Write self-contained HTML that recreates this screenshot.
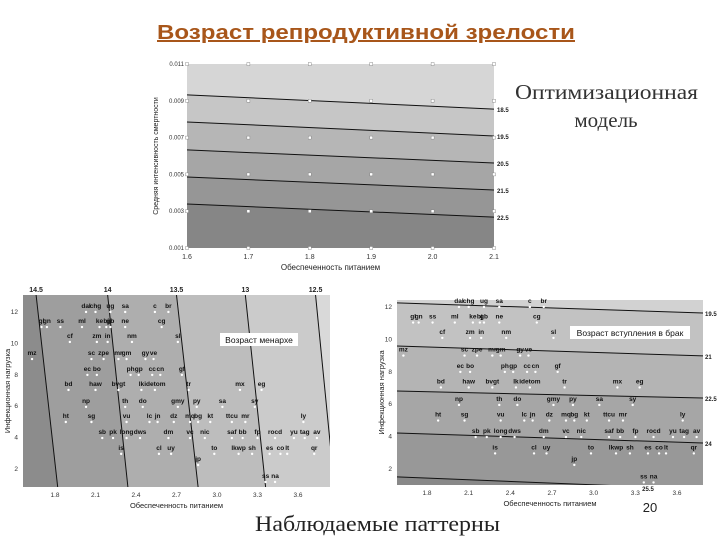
<!DOCTYPE html>
<html><head><meta charset="utf-8"><style>
body{margin:0;background:#fff;}
svg{display:block;font-family:"Liberation Sans",sans-serif;}
</style></head><body>
<svg id="s" width="720" height="540" viewBox="0 0 720 540">
<text x="157" y="39" textLength="418" lengthAdjust="spacingAndGlyphs" font-size="20" font-weight="bold" fill="#a8561a" text-decoration="underline">Возраст репродуктивной зрелости</text>
<text x="515" y="99" textLength="183" lengthAdjust="spacingAndGlyphs" font-family="Liberation Serif,serif" font-size="21" fill="#333">Оптимизационная</text>
<text x="606" y="127" text-anchor="middle" font-family="Liberation Serif,serif" font-size="21" fill="#333">модель</text>
<text x="255" y="531" textLength="245" lengthAdjust="spacingAndGlyphs" font-family="Liberation Serif,serif" font-size="22" fill="#222">Наблюдаемые паттерны</text>
<text x="650" y="512" text-anchor="middle" font-size="13" fill="#222">20</text>
<g id="top"></g><g id="bl"></g><g id="br"></g>
</svg>
<script>
// ---- top chart data ----
const topX = [1.6,1.7,1.8,1.9,2.0,2.1];
const topY = [0.011,0.009,0.007,0.005,0.003,0.001];
const topLevels = [18.5,19.5,20.5,21.5,22.5];
const topLeft = [0.00932,0.00785,0.00633,0.00486,0.00339];
const topRight = [0.00855,0.00709,0.00562,0.00415,0.00268];
const topXTicks = ["1.6","1.7","1.8","1.9","2.0","2.1"];
const topYTicks = ["0.011","0.009","0.007","0.005","0.003","0.001"];
// ---- observed data ----
const codes = ["dal","chg","ug","sa","c","br","gl","gn","ss","ml","ke","bj","gb","ne","cg","cf","zm","in","nm","sl","mz","sc","zpe","mr","gm","gy","ve","ec","bo","ph","gp","cc","cn","gf","bd","haw","bvgt","lk","idetom","tr","mx","eg","np","th","do","gmy","py","sa","sy","ht","sg","vu","lc","jn","dz","mq","bg","kt","ttcu","mr","ly","sb","pk","long","dws","dm","vc","nic","saf","bb","fp","rocd","yu","tag","av","is","cl","uy","to","lkwp","sh","es","co","lt","qr","jp","ss","na"];
const nutrition = [2.03,2.10,2.21,2.32,2.54,2.64,1.70,1.74,1.84,2.00,2.13,2.18,2.21,2.32,2.59,1.91,2.11,2.19,2.37,2.71,1.63,2.07,2.16,2.27,2.33,2.47,2.53,2.04,2.11,2.36,2.42,2.52,2.58,2.74,1.90,2.10,2.27,2.44,2.54,2.79,3.17,3.33,2.03,2.32,2.45,2.71,2.85,3.04,3.28,1.88,2.07,2.33,2.50,2.56,2.68,2.80,2.86,2.95,3.11,3.21,3.64,2.15,2.23,2.33,2.43,2.64,2.80,2.91,3.11,3.19,3.30,3.43,3.57,3.65,3.74,2.29,2.57,2.66,2.98,3.16,3.26,3.39,3.47,3.52,3.72,2.86,3.36,3.43];
const infection = [12,12,12,12,12,12,11.04,11.04,11.04,11.04,11.04,11.04,11.04,11.04,11.04,10.09,10.09,10.09,10.09,10.09,9.0,9.0,9.0,9.0,9.0,9.0,9.0,7.99,7.99,7.99,7.99,7.99,7.99,7.99,7.03,7.03,7.03,7.03,7.03,7.03,7.03,7.03,5.95,5.95,5.95,5.95,5.95,5.95,5.95,4.99,4.99,4.99,4.99,4.99,4.99,4.99,4.99,4.99,4.99,4.99,4.99,3.97,3.97,3.97,3.97,3.97,3.97,3.97,3.97,3.97,3.97,3.97,3.97,3.97,3.97,2.96,2.96,2.96,2.96,2.96,2.96,2.96,2.96,2.96,2.96,2.25,1.17,1.17];
const xTicks = ["1.8","2.1","2.4","2.7","3.0","3.3","3.6"];
const yTicks = ["2","4","6","8","10","12"];
// menarche contours (vertical-ish): nutrition at top / bottom edge
const menLevels = ["14.5","14","13.5","13","12.5"];
const menTop = [1.66,2.19,2.70,3.21,3.73];
const menBottom = [1.82,2.34,2.86,3.36,3.87];
// marriage contours (horizontal-ish): infection at left / right edge
const marLevels = ["19.5","21","22.5","24","25.5"];
const marLeft = [12.25,9.59,6.81,4.22,1.51];
const marRight = [11.63,8.98,6.38,3.60,0.75];

const NS="http://www.w3.org/2000/svg";
function mk(p,tag,a){const e=document.createElementNS(NS,tag);for(const k in a)e.setAttribute(k,a[k]);p.appendChild(e);return e;}
function lin(d0,d1,r0,r1){return v=>r0+(v-d0)/(d1-d0)*(r1-r0);}

// ===== TOP CHART =====
(function(){
 const g=document.getElementById('top');
 const L=187,R=494,T=64,B=248;
 const sx=lin(1.6,2.1,L,R), sy=lin(0.001,0.011,B,T);
 const fills=["#d6d6d6","#c6c6c6","#b6b6b6","#a6a6a6","#969696","#868686"];
 const cp=mk(g,'clipPath',{id:'ctop'});mk(cp,'rect',{x:L,y:T,width:R-L,height:B-T});
 const bg=mk(g,'rect',{x:L,y:T,width:R-L,height:B-T,fill:fills[0]});
 
 
 for(let i=0;i<topLevels.length;i++){
  const p=mk(g,'polygon',{points:`${L},${sy(topLeft[i])} ${R},${sy(topRight[i])} ${R},${B} ${L},${B}`,fill:fills[i+1],'clip-path':'url(#ctop)'});
  
  
 }
 for(let i=0;i<topLevels.length;i++){
  const l=mk(g,'line',{x1:L,y1:sy(topLeft[i]),x2:R,y2:sy(topRight[i]),stroke:'#111','stroke-width':1});
  
  
  const t=mk(g,'text',{x:R+3,y:sy(topRight[i])+3,'font-size':6,'font-weight':'bold',fill:'#222'});t.textContent=topLevels[i].toFixed(1);
  
  
 }
 topX.forEach(x=>topY.forEach(y=>{
  const d=mk(g,'rect',{x:sx(x)-1.5,y:sy(y)-1.5,width:3,height:3,fill:'#fff',stroke:'#777','stroke-width':0.4});
  
  
 }));
 topXTicks.forEach((s,i)=>{const t=mk(g,'text',{x:sx(topX[i]),y:B+11,'font-size':7,'text-anchor':'middle',fill:'#333'});t.textContent=s;
  
  });
 topYTicks.forEach((s,i)=>{const t=mk(g,'text',{x:L-3,y:sy(topY[i])+2,'font-size':6,'text-anchor':'end',fill:'#333'});t.textContent=s;
  
  });
 const xt=mk(g,'text',{x:(L+R)/2-10,y:B+22,'font-size':8,'text-anchor':'middle',fill:'#222'});xt.textContent='Обеспеченность питанием';
 
 
 const yt=mk(g,'text',{x:0,y:0,'font-size':7,'text-anchor':'middle',fill:'#222',transform:`translate(158,${(T+B)/2}) rotate(-90)`});yt.textContent='Средняя интенсивность смертности';
 
 
})();

// ===== OBSERVED CHARTS =====
function observed(gid,L,R,T,B,x0,x1,y0,y1,xt0,xt1,yt0,yt1,kind){
 const g=document.getElementById(gid);
 const sx=lin(x0,x1,L,R), sy=lin(y0,y1,B,T);
 const tx=lin(1.8,3.6,xt0,xt1), ty=lin(2,12,yt0,yt1);
 const cid='clip'+gid;
 const cp=mk(g,'clipPath',{id:cid});mk(cp,'rect',{x:L,y:T,width:R-L,height:B-T});
 let fills;
 if(kind==='men'){
  fills=["#8c8c8c","#9e9e9e","#aeaeae","#bdbdbd","#cbcbcb","#d9d9d9"];
  const bg=mk(g,'rect',{x:L,y:T,width:R-L,height:B-T,fill:fills[5]});
  
  
  for(let i=menLevels.length-1;i>=0;i--){
   const p=mk(g,'polygon',{points:`${L-5},${T} ${sx(menTop[i])},${T} ${sx(menBottom[i])},${B} ${L-5},${B}`,fill:fills[i],'clip-path':`url(#${cid})`});
   
   
  }
  for(let i=0;i<menLevels.length;i++){
   const l=mk(g,'line',{x1:sx(menTop[i]),y1:T,x2:sx(menBottom[i]),y2:B,stroke:'#111','stroke-width':1,'clip-path':`url(#${cid})`});
   
   
   const t=mk(g,'text',{x:sx(menTop[i]),y:T-3,'font-size':7,'font-weight':'bold','text-anchor':'middle',fill:'#222'});t.textContent=menLevels[i];
   
   
  }
 } else {
  fills=["#d2d2d2","#c2c2c2","#b4b4b4","#a6a6a6","#989898","#888888"];
  const bg=mk(g,'rect',{x:L,y:T,width:R-L,height:B-T,fill:fills[0]});
  
  
  for(let i=0;i<marLevels.length;i++){
   const p=mk(g,'polygon',{points:`${L},${sy(marLeft[i])} ${R},${sy(marRight[i])} ${R},${B} ${L},${B}`,fill:fills[i+1],'clip-path':`url(#${cid})`});
   
   
  }
  for(let i=0;i<marLevels.length;i++){
   const l=mk(g,'line',{x1:L,y1:sy(marLeft[i]),x2:R,y2:sy(marRight[i]),stroke:'#111','stroke-width':1,'clip-path':`url(#${cid})`});
   
   
   const last=i===marLevels.length-1;
   const t=mk(g,'text',{x:last?648:R+2,y:last?B+6:sy(marRight[i])+3,'font-size':6,'font-weight':'bold',fill:'#222','text-anchor':last?'middle':'start'});t.textContent=marLevels[i];
   
   
  }
 }
 codes.forEach((c,i)=>{
  const x=sx(nutrition[i]), y=sy(infection[i]);
  const d=mk(g,'circle',{cx:x,cy:y,r:1.2,fill:'#fff'});
  
  
  const t=mk(g,'text',{x:x,y:y-4,'font-size':6.5,'font-weight':'bold','text-anchor':'middle',fill:'#111'});t.textContent=c;
  
  
 });
 xTicks.forEach((s,i)=>{const t=mk(g,'text',{x:tx(1.8+0.3*i),y:B+10,'font-size':6.5,'text-anchor':'middle',fill:'#333'});t.textContent=s;
  
  });
 yTicks.forEach((s,i)=>{const t=mk(g,'text',{x:L-5,y:ty(2+2*i)+2,'font-size':6.5,'text-anchor':'end',fill:'#333'});t.textContent=s;
  
  });
 const xa=mk(g,'text',{x:(L+R)/2,y:B+21,'font-size':7.5,'text-anchor':'middle',fill:'#222'});xa.textContent='Обеспеченность питанием';
 
 
 const ya=mk(g,'text',{x:0,y:0,'font-size':7.5,'text-anchor':'middle',fill:'#222',transform:`translate(${L-13},${(T+B)/2}) rotate(-90)`});ya.textContent='Инфекционная нагрузка';
 
 
 const bx=kind==='men'?[220,333,78]:[570,326,120];
 const box=mk(g,'rect',{x:bx[0],y:bx[1],width:bx[2],height:13,fill:'#fff'});
 
 
 const bt=mk(g,'text',{x:bx[0]+bx[2]/2,y:bx[1]+10,'font-size':8.5,'text-anchor':'middle',fill:'#111'});bt.textContent=kind==='men'?'Возраст менархе':'Возраст вступления в брак';
 
 
}
observed('bl',23,330,295,487,1.563,3.837,0.85,13.08,55,298,469,312,'men');
observed('br',397,703,300,485,1.584,3.786,1.01,12.43,427,677,469,307,'mar');
</script>
</body></html>
